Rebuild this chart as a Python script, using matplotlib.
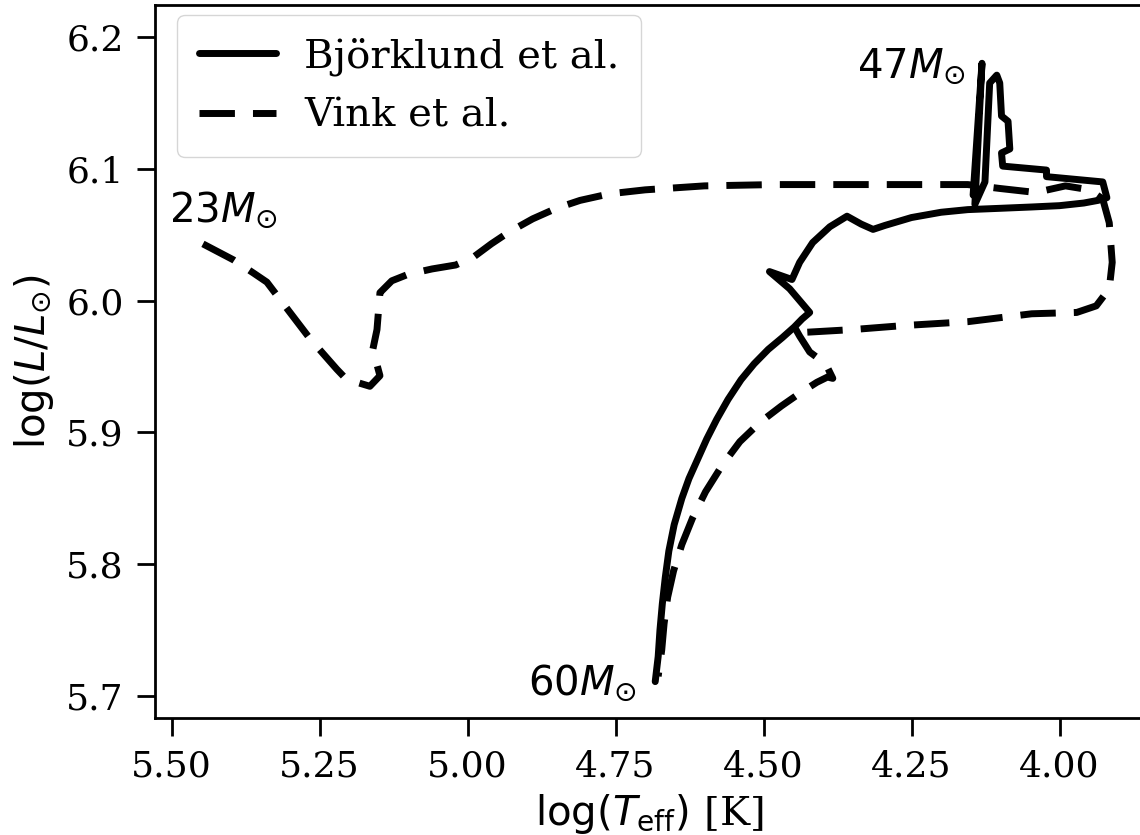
import numpy as np
import matplotlib
matplotlib.use('Agg')
import matplotlib.pyplot as plt

# Evolutionary tracks
# Bjorklund et al. mass-loss: 60 Msun -> 47 Msun
bjorklund_logT = [4.683, 4.678, 4.675, 4.671, 4.666, 4.660, 4.651, 4.638, 4.626,
                  4.611, 4.596, 4.579, 4.560, 4.538, 4.516, 4.492, 4.468, 4.448,
                  4.435, 4.422, 4.456, 4.490, 4.452, 4.439, 4.417, 4.388, 4.359,
                  4.335, 4.315, 4.295, 4.250, 4.200, 4.155, 4.100, 4.047, 4.000,
                  3.959, 3.935, 3.920, 3.927, 4.022, 4.022, 4.096, 4.098, 4.084,
                  4.087, 4.098, 4.101, 4.106, 4.118, 4.126, 4.143, 4.131, 4.146]
bjorklund_logL = [5.711, 5.730, 5.750, 5.770, 5.790, 5.810, 5.830, 5.850, 5.865,
                  5.880, 5.895, 5.910, 5.925, 5.940, 5.952, 5.963, 5.972, 5.980,
                  5.986, 5.991, 6.009, 6.022, 6.016, 6.029, 6.044, 6.056, 6.064,
                  6.058, 6.054, 6.057, 6.063, 6.067, 6.069, 6.070, 6.071, 6.072,
                  6.074, 6.076, 6.078, 6.090, 6.094, 6.099, 6.102, 6.112, 6.115,
                  6.136, 6.140, 6.165, 6.171, 6.165, 6.090, 6.073, 6.180, 6.080]

# Vink et al. mass-loss: 60 Msun -> 23 Msun
vink_logT = [4.678, 4.672, 4.668, 4.662, 4.652, 4.638, 4.620, 4.598, 4.570,
             4.540, 4.505, 4.470, 4.438, 4.410, 4.392, 4.383, 4.395, 4.422,
             4.439, 4.449, 4.427, 4.350, 4.265, 4.155, 4.047, 3.971, 3.938,
             3.916, 3.911, 3.916, 3.927, 3.949, 3.990, 4.040, 4.100, 4.155,
             4.300, 4.482, 4.600, 4.700, 4.760, 4.810, 4.850, 4.890, 4.930,
             4.960, 4.990, 5.020, 5.060, 5.100, 5.128, 5.148, 5.153, 5.160,
             5.148, 5.165, 5.187, 5.204, 5.221, 5.266, 5.317, 5.339, 5.362,
             5.396, 5.447]
vink_logL = [5.715, 5.735, 5.755, 5.775, 5.795, 5.815, 5.835, 5.855, 5.875,
             5.893, 5.908, 5.920, 5.930, 5.938, 5.942, 5.941, 5.952, 5.961,
             5.973, 5.981, 5.976, 5.978, 5.981, 5.984, 5.990, 5.991, 5.996,
             6.009, 6.029, 6.059, 6.077, 6.084, 6.087, 6.082, 6.085, 6.088,
             6.088, 6.088, 6.087, 6.084, 6.081, 6.076, 6.070, 6.062, 6.052,
             6.043, 6.033, 6.027, 6.024, 6.020, 6.015, 6.006, 5.978, 5.963,
             5.943, 5.935, 5.938, 5.940, 5.948, 5.971, 6.001, 6.014, 6.021,
             6.031, 6.043]

# Final/initial mass labels
mass_labels = [r'$60M_{\odot}$', r'$47M_{\odot}$', r'$23M_{\odot}$']
label_logT = [4.713, 4.158, 5.505]
label_logL = [5.710, 6.178, 6.069]
label_ha = ['right', 'right', 'left']

plt.rcParams['font.family'] = 'serif'
plt.rcParams['font.serif'] = ['DejaVu Serif']
plt.rcParams['mathtext.fontset'] = 'dejavusans'
plt.rcParams['axes.linewidth'] = 2.0
plt.rcParams['xtick.major.size'] = 13
plt.rcParams['ytick.major.size'] = 13
plt.rcParams['xtick.major.width'] = 2.0
plt.rcParams['ytick.major.width'] = 2.0

fig = plt.figure(figsize=(11.4, 8.35), dpi=100)
ax = fig.add_axes([155 / 1140, 1 - 718 / 835, (1143 - 155) / 1140, (718 - 5) / 835])

ax.plot(bjorklund_logT, bjorklund_logL, color='black', lw=5,
        solid_capstyle='round', solid_joinstyle='round', label='Björklund et al.')
# drawn from the 23 Msun end so the dash pattern starts with a full dash there
ax.plot(vink_logT[::-1], vink_logL[::-1], color='black', lw=5, ls=(0, (5.1, 2.6)),
        dash_capstyle='butt', dash_joinstyle='round', label='Vink et al.')

for txt, x, y, ha in zip(mass_labels, label_logT, label_logL, label_ha):
    ax.text(x, y, txt, fontsize=29, ha=ha, va='center')

ax.set_xlim(5.528, 3.859)
ax.set_ylim(5.6834, 6.2242)
ax.set_xticks([5.50, 5.25, 5.00, 4.75, 4.50, 4.25, 4.00])
ax.set_yticks([5.7, 5.8, 5.9, 6.0, 6.1, 6.2])
ax.tick_params(labelsize=26, direction='out', pad=9.5)

ax.set_xlabel(r'$\log(T_{\rm eff})$ [K]', fontsize=29, labelpad=6)
ax.set_ylabel(r'$\log(L/L_{\odot})$', fontsize=29, labelpad=7)

ax.legend(loc='upper left', bbox_to_anchor=(0.0223, 0.986), borderaxespad=0,
          fontsize=29, frameon=True, fancybox=True, edgecolor='0.8',
          handlelength=1.9, handletextpad=0.7, borderpad=0.55, labelspacing=0.55)

fig.savefig('out.png', dpi=100)
